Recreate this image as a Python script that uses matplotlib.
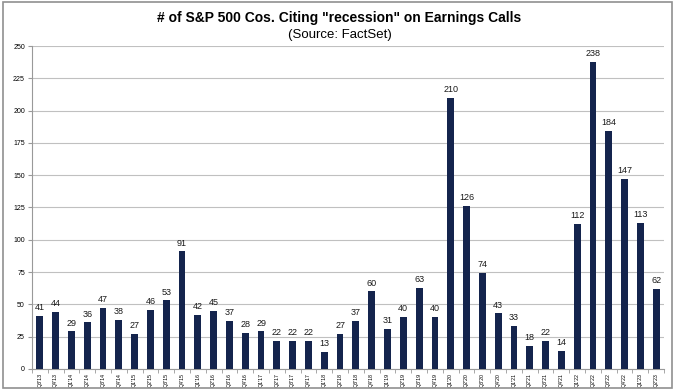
#!/usr/bin/env python3
# -*- coding: utf-8 -*-

import matplotlib
matplotlib.use('Agg')
import matplotlib.pyplot as plt
from matplotlib.patches import Rectangle
import numpy as np

quarters = ["Q3'13", "Q4'13", "Q1'14", "Q2'14", "Q3'14", "Q4'14",
            "Q1'15", "Q2'15", "Q3'15", "Q4'15", "Q1'16", "Q2'16",
            "Q3'16", "Q4'16", "Q1'17", "Q2'17", "Q3'17", "Q4'17",
            "Q1'18", "Q2'18", "Q3'18", "Q4'18", "Q1'19", "Q2'19",
            "Q3'19", "Q4'19", "Q1'20", "Q2'20", "Q3'20", "Q4'20",
            "Q1'21", "Q2'21", "Q3'21", "Q4'21", "Q1'22", "Q2'22",
            "Q3'22", "Q4'22", "Q1'23", "Q2'23"]
counts = [41, 44, 29, 36, 47, 38, 27, 46, 53, 91, 42, 45, 37, 28, 29,
          22, 22, 22, 13, 27, 37, 60, 31, 40, 63, 40, 210, 126, 74, 43,
          33, 18, 22, 14, 112, 238, 184, 147, 113, 62]
y_ticks = list(range(0, 251, 25))

plt.rcParams['font.family'] = ['Liberation Sans', 'DejaVu Sans']

fig = plt.figure(figsize=(6.79, 3.90), dpi=100)
ax = fig.add_axes([0.047, 0.054, 0.931, 0.828])

x = np.arange(len(quarters))
ax.bar(x, counts, width=0.43, color='#14244d', zorder=3)

for xi, v in zip(x, counts):
        ax.text(xi, v + 3, str(v), ha='center', va='bottom',
                fontsize=6.5, color='#1a1a1a')

ax.set_xlim(-0.5, len(quarters) - 0.5)
ax.set_ylim(0, 250)
ax.set_yticks(y_ticks)
ax.set_yticklabels([str(t) for t in y_ticks], fontsize=5)
ax.set_xticks(x)
ax.set_xticklabels(quarters, rotation=90, fontsize=3.8)
ax.tick_params(axis='x', length=0, pad=3)
ax.tick_params(axis='y', length=3, color='#999999', pad=2)
ax.set_xticks(np.arange(-0.5, len(quarters), 1), minor=True)
ax.tick_params(axis='x', which='minor', length=3, color='#999999')

ax.grid(axis='y', color='#c0c0c0', linewidth=0.8, zorder=0)
for s in ['top', 'right']:
        ax.spines[s].set_visible(False)
ax.spines['left'].set_color('#999999')
ax.spines['bottom'].set_color('#999999')

fig.text(0.5, 0.955, '# of S&P 500 Cos. Citing "recession" on Earnings Calls',
         ha='center', va='center', fontsize=10, fontweight='bold')
fig.text(0.5, 0.91, '(Source: FactSet)', ha='center', va='center',
         fontsize=9.5)

fig.patches.append(Rectangle((0.004, 0.006), 0.986, 0.99,
                             transform=fig.transFigure, fill=False,
                             edgecolor='#909090', linewidth=1.2))

fig.savefig('out.png', dpi=100)
